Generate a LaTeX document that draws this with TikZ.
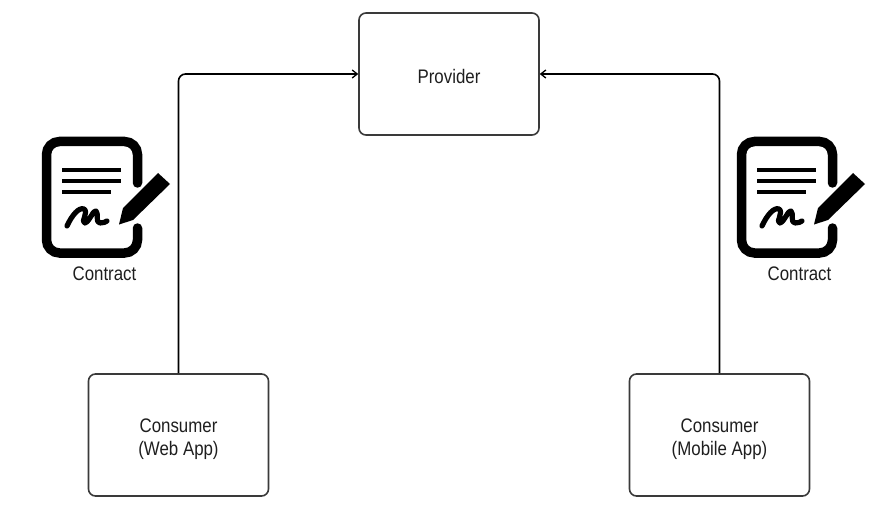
\documentclass[tikz,border=0pt]{standalone}
\usepackage{fontspec}
\setmainfont[FakeStretch=0.86]{Liberation Sans}
\usetikzlibrary{arrows.meta,positioning}
\definecolor{boxline}{HTML}{3A3A3A}
\definecolor{txt}{HTML}{1E1E1E}
\newcommand{\lowered}[2]{\raisebox{-#1}[\height][\depth]{#2}}
\tikzset{
  x=1pt,y=-1pt,
  box/.style={draw=boxline,line width=1.6pt,rounded corners=7pt,minimum width=180pt,minimum height=122pt,inner sep=0pt,align=center,font=\fontsize{19.6}{23}\selectfont,text=txt},
  lbl/.style={inner sep=0pt,font=\fontsize{19.6}{23}\selectfont,text=txt},
  link/.style={draw=black,line width=1.6pt,rounded corners=7pt,-{Straight Barb[length=5pt,width=8pt,line width=1.3pt]}},
  docedge/.style={draw=black,line width=9.5pt,line cap=round,rounded corners=13pt},
  docline/.style={draw=black,line width=4.6pt},
  sign/.style={draw=black,line width=5.2pt,line cap=round,line join=round},
  contract/.pic={
    \draw[docedge] (137.5,183) -- (137.5,141.5) -- (46.5,141.5) -- (46.5,253) -- (137.5,253) -- (137.5,228);
    \draw[docline] (62,170) -- (121,170);
    \draw[docline] (62,181) -- (121,181);
    \draw[docline] (62,192) -- (111,192);
    \fill[black] (158,173) -- (170,184) -- (133,220) -- (119,224.5) -- (123,208) -- cycle;
    \draw[sign] (67,226) .. controls (72,215) and (79,207) .. (84,209)
      .. controls (89,212) and (80,223) .. (85,223)
      .. controls (90,221) and (93,210) .. (96,211)
      .. controls (99,213) and (95,223) .. (100,223)
      .. controls (103,223) and (106,222) .. (107,221);
  }
}
\begin{document}
\begin{tikzpicture}
\useasboundingbox (0,0) rectangle (880,513);
\node[box] (provider) at (449,74) {\lowered{2pt}{Provider}};
\node[box] (web) at (178.5,435) {\lowered{4.5pt}{Consumer}\\\lowered{4.5pt}{(Web App)}};
\node[box] (mobile) at (719.5,435) {\lowered{4.5pt}{Consumer}\\\lowered{4.5pt}{(Mobile App)}};
\draw[link] (web.north) -- (web.north |- provider.west) -- (provider.west);
\draw[link] (mobile.north) -- (mobile.north |- provider.east) -- (provider.east);
\pic at (0,0) {contract};
\pic at (695,0) {contract};
\node[lbl] (c1) at (104.5,274) {Contract};
\node[lbl] (c2) at (799.5,274) {Contract};
\end{tikzpicture}
\end{document}
